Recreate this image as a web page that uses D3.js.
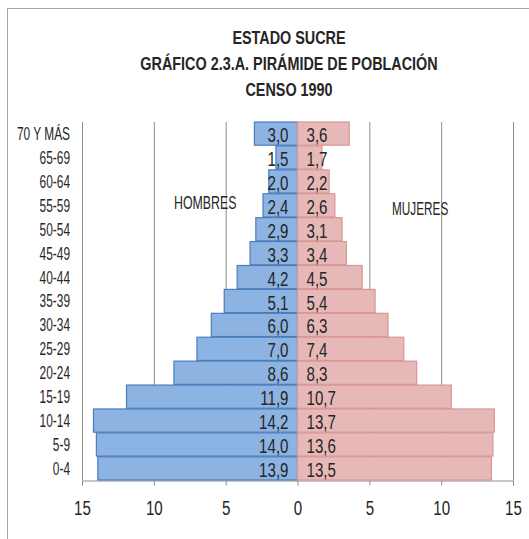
<!DOCTYPE html>
<html>
<head>
<meta charset="utf-8">
<script src="https://cdn.jsdelivr.net/npm/d3@7"></script>
<style>
  body { margin: 0; background: #fff; }
  text { font-family: "Liberation Sans", Arial, sans-serif; fill: #262626; }
</style>
</head>
<body>
<svg id="chart" width="529" height="539"></svg>
<script>
// age groups, bottom to top
var groups = ['0-4', '5-9', '10-14', '15-19', '20-24', '25-29', '30-34', '35-39',
    '40-44', '45-49', '50-54', '55-59', '60-64', '65-69', '70 Y MÁS'];
var hombres = [13.9, 14.0, 14.2, 11.9, 8.6, 7.0, 6.0, 5.1, 4.2, 3.3, 2.9, 2.4, 2.0, 1.5, 3.0];
var mujeres = [13.5, 13.6, 13.7, 10.7, 8.3, 7.4, 6.3, 5.4, 4.5, 3.4, 3.1, 2.6, 2.2, 1.7, 3.6];
var xticks = [-15, -10, -5, 0, 5, 10, 15];
var title = ['ESTADO SUCRE', 'GRÁFICO 2.3.A. PIRÁMIDE DE POBLACIÓN', 'CENSO 1990'];

var svg = d3.select('#chart');
var fmt = function(v) { return v.toFixed(1).replace('.', ','); };
// narrow the font, reference uses a condensed face
var sx = 0.72;
var place = function(px, py, s) { return 'translate(' + px + ',' + py + ') scale(' + (s || sx) + ',1)'; };

// outer frame
svg.append('rect')
    .attr('x', 7.5).attr('y', 8.5)
    .attr('width', 540).attr('height', 560)
    .attr('fill', 'none')
    .attr('stroke', '#a6a6a6');

var x = d3.scaleLinear().domain([-15, 15]).range([82, 513]);
var y = d3.scaleBand().domain(groups).range([480, 122]).paddingInner(0.03);

// title
svg.append('g').selectAll('text')
    .data(title)
    .enter().append('text')
        .attr('transform', function(d, i) { return place(289, 44 + i * 26, 0.8); })
        .attr('text-anchor', 'middle')
        .style('font-size', '18px')
        .style('font-weight', 'bold')
        .text(function(d) { return d; });

// grid lines
svg.append('g').selectAll('line')
    .data(xticks)
    .enter().append('line')
        .attr('x1', function(d) { return x(d) + 0.5; })
        .attr('x2', function(d) { return x(d) + 0.5; })
        .attr('y1', 122).attr('y2', 480)
        .attr('stroke', '#8c8c8c');

// bottom axis
var xAxis = d3.axisBottom(x)
    .tickValues(xticks)
    .tickSize(5)
    .tickPadding(15)
    .tickFormat(function(d) { return Math.abs(d); });

var ax = svg.append('g')
    .attr('transform', 'translate(0,480.5)')
    .call(xAxis);
ax.select('.domain').attr('stroke', '#8c8c8c');
ax.selectAll('.tick line').attr('stroke', '#8c8c8c');
ax.selectAll('.tick text')
    .attr('transform', 'scale(' + sx + ',1)')
    .style('font-family', '"Liberation Sans", Arial, sans-serif')
    .style('font-size', '21px')
    .attr('fill', '#262626');

// bars
var rows = groups.map(function(g, i) { return { g: g, h: hombres[i], m: mujeres[i] }; });

svg.append('g').selectAll('rect')
    .data(rows)
    .enter().append('rect')
        .attr('x', function(d) { return x(-d.h); })
        .attr('y', function(d) { return y(d.g); })
        .attr('width', function(d) { return x(0) - x(-d.h); })
        .attr('height', y.bandwidth())
        .attr('fill', '#8db3e2')
        .attr('stroke', '#4a7ebb')
        .attr('stroke-width', 1.2);

svg.append('g').selectAll('rect')
    .data(rows)
    .enter().append('rect')
        .attr('x', x(0))
        .attr('y', function(d) { return y(d.g); })
        .attr('width', function(d) { return x(d.m) - x(0); })
        .attr('height', y.bandwidth())
        .attr('fill', '#e6b9b8')
        .attr('stroke', '#d99694')
        .attr('stroke-width', 1.2);

// value labels
svg.append('g').selectAll('text')
    .data(rows)
    .enter().append('text')
        .attr('transform', function(d) { return place(x(0) - 9, y(d.g) + y.bandwidth() / 2 + 1); })
        .attr('dy', '0.36em')
        .attr('text-anchor', 'end')
        .style('font-size', '21px')
        .text(function(d) { return fmt(d.h); });

svg.append('g').selectAll('text')
    .data(rows)
    .enter().append('text')
        .attr('transform', function(d) { return place(x(0) + 9, y(d.g) + y.bandwidth() / 2 + 1); })
        .attr('dy', '0.36em')
        .style('font-size', '21px')
        .text(function(d) { return fmt(d.m); });

// category labels
svg.append('g').selectAll('text')
    .data(groups)
    .enter().append('text')
        .attr('transform', function(d) { return place(70, y(d) + y.bandwidth() / 2, 0.66); })
        .attr('dy', '0.36em')
        .attr('text-anchor', 'end')
        .style('font-size', '18px')
        .text(function(d) { return d; });

// series names
svg.append('text')
    .attr('transform', place(174, 209, 0.65))
    .style('font-size', '19px')
    .text('HOMBRES');
svg.append('text')
    .attr('transform', place(392, 215, 0.62))
    .style('font-size', '19px')
    .text('MUJERES');
</script>
</body>
</html>
